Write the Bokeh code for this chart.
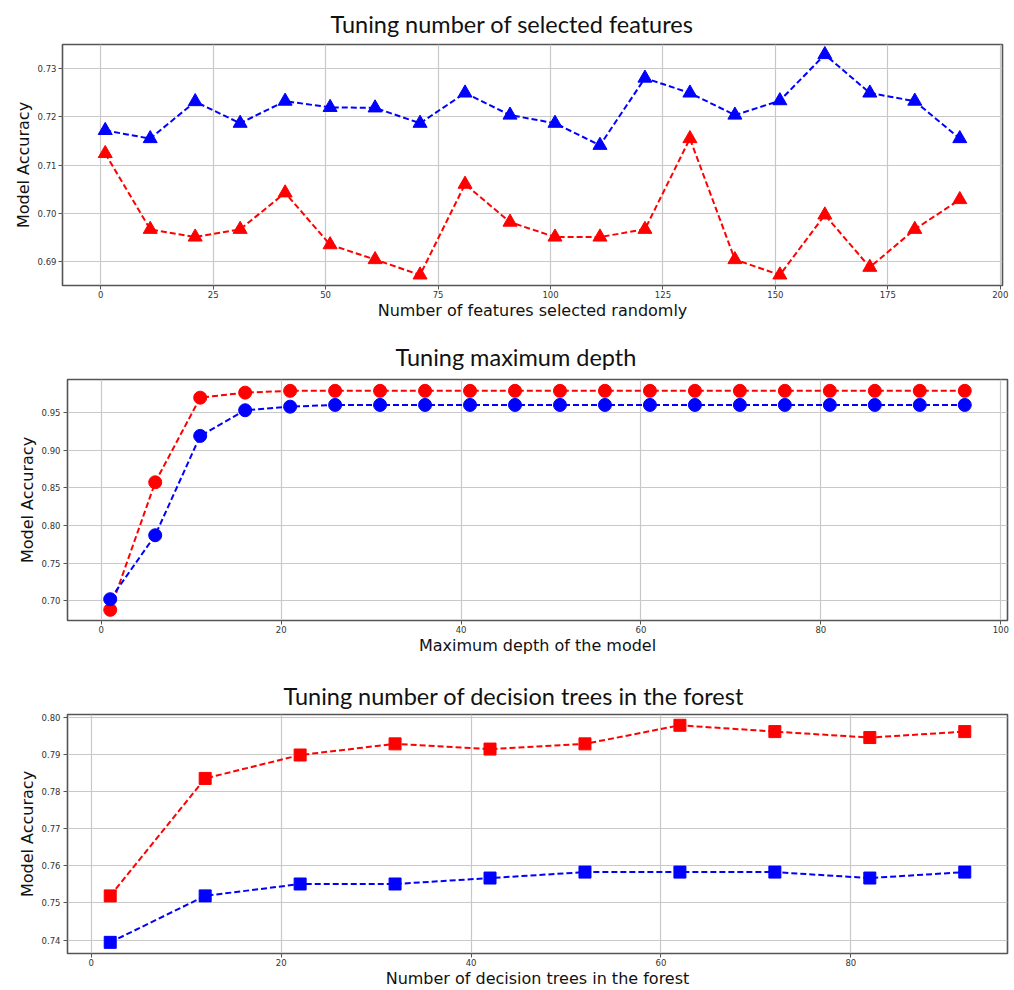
from bokeh.plotting import figure
from bokeh.models import FixedTicker, NumeralTickFormatter, Range1d
from bokeh.embed import file_html
from bokeh.resources import INLINE

# ---------------- data ----------------
features_x = [1, 11, 21, 31, 41, 51, 61, 71, 81, 91, 101, 111, 121, 131, 141, 151, 161, 171, 181, 191]
features_blue = [0.7172, 0.7155, 0.7232, 0.7187, 0.7233, 0.7220, 0.7219, 0.7187, 0.7250, 0.7204,
                 0.7187, 0.7141, 0.7281, 0.7250, 0.7204, 0.7234, 0.7330, 0.7250, 0.7233, 0.7155]
features_red = [0.7124, 0.6966, 0.6950, 0.6966, 0.7042, 0.6934, 0.6903, 0.6871, 0.7060, 0.6981,
                0.6950, 0.6950, 0.6966, 0.7155, 0.6903, 0.6871, 0.6996, 0.6887, 0.6966, 0.7028]

depth_x = [1, 6, 11, 16, 21, 26, 31, 36, 41, 46, 51, 56, 61, 66, 71, 76, 81, 86, 91, 96]
depth_red = [0.6876, 0.8576, 0.9704, 0.9771, 0.9795, 0.9795, 0.9795, 0.9795, 0.9795, 0.9795,
             0.9795, 0.9795, 0.9795, 0.9795, 0.9795, 0.9795, 0.9795, 0.9795, 0.9795, 0.9795]
depth_blue = [0.7018, 0.7870, 0.9194, 0.9536, 0.9584, 0.9607, 0.9607, 0.9607, 0.9607, 0.9607,
              0.9607, 0.9607, 0.9607, 0.9607, 0.9607, 0.9607, 0.9607, 0.9607, 0.9607, 0.9607]

trees_x = [2, 12, 22, 32, 42, 52, 62, 72, 82, 92]
trees_red = [0.7519, 0.7835, 0.7898, 0.7928, 0.7914, 0.7928, 0.7978, 0.7961, 0.7945, 0.7961]
trees_blue = [0.7394, 0.7519, 0.7551, 0.7551, 0.7567, 0.7583, 0.7583, 0.7583, 0.7567, 0.7583]

titles = ["Tuning number of selected features", "Tuning maximum depth",
          "Tuning number of decision trees in the forest"]
xlabels = ["Number of features selected randomly", "Maximum depth of the model",
           "Number of decision trees in the forest"]
ylabel = "Model Accuracy"

f1_xticks = [0, 25, 50, 75, 100, 125, 150, 175, 200]
f1_yticks = [0.69, 0.70, 0.71, 0.72, 0.73]
f2_xticks = [0, 20, 40, 60, 80, 100]
f2_yticks = [0.70, 0.75, 0.80, 0.85, 0.90, 0.95]
f3_xticks = [0, 20, 40, 60, 80]
f3_yticks = [0.74, 0.75, 0.76, 0.77, 0.78, 0.79, 0.80]

RED = "#ff0000"
BLUE = "#0000ff"
W = 1014


def make_fig(height, top, bottom, left, right, xr, yr, xticks, yticks,
             title, t_offset, t_standoff, xlabel):
    p = figure(width=W, height=height, output_backend="svg", toolbar_location=None,
               x_range=Range1d(*xr), y_range=Range1d(*yr),
               min_border_top=top, min_border_bottom=bottom,
               min_border_left=left, min_border_right=right)
    p.title.text = title
    p.title.align = "left"
    p.title.offset = t_offset
    p.title.text_font = "Lato"
    p.title.text_font_size = "23.5px"
    p.title.text_font_style = "normal"
    p.title.text_color = "#111111"
    p.title.standoff = t_standoff
    p.outline_line_color = "#555555"
    p.outline_line_width = 1.6
    p.background_fill_color = "white"
    p.border_fill_color = "white"
    p.xaxis.ticker = FixedTicker(ticks=xticks)
    p.yaxis.ticker = FixedTicker(ticks=yticks)
    p.yaxis.formatter = NumeralTickFormatter(format="0.00")
    for ax in (p.xaxis, p.yaxis):
        ax.axis_line_color = None
        ax.major_tick_line_color = "#555555"
        ax.major_tick_out = 4
        ax.major_tick_in = 0
        ax.minor_tick_line_color = None
        ax.major_label_text_font = "DejaVu Sans"
        ax.major_label_text_font_size = "8.5px"
        ax.major_label_text_color = "#333333"
        ax.axis_label_text_font = "DejaVu Sans"
        ax.axis_label_text_font_size = "16px"
        ax.axis_label_text_font_style = "normal"
        ax.axis_label_text_color = "#111111"
    p.xaxis.major_label_standoff = 1
    p.xaxis.axis_label = xlabel
    p.xaxis.axis_label_standoff = 0
    p.yaxis.major_label_standoff = 3
    p.yaxis.axis_label = ylabel
    p.yaxis.axis_label_standoff = 2
    p.grid.grid_line_color = "#c8c8c8"
    p.grid.grid_line_width = 1.2
    return p


p1 = make_fig(330, 44, 45, 62, 12, (-8.5, 200.5), (0.6849, 0.7351), f1_xticks, f1_yticks,
              titles[0], 268, 13, xlabels[0])
p1.yaxis.major_label_standoff = 2
p1.line(features_x, features_blue, color=BLUE, line_width=2, line_dash="6 3")
p1.scatter(features_x, features_blue, marker="triangle", size=14, color=BLUE)
p1.line(features_x, features_red, color=RED, line_width=2, line_dash="6 3")
p1.scatter(features_x, features_red, marker="triangle", size=14, color=RED)

p2 = make_fig(335, 49, 45, 67, 7, (-3.75, 100.75), (0.6734, 0.9946), f2_xticks, f2_yticks,
              titles[1], 328, 18, xlabels[1])
p2.line(depth_x, depth_red, color=RED, line_width=2, line_dash="6 3")
p2.scatter(depth_x, depth_red, marker="circle", size=13, color=RED)
p2.line(depth_x, depth_blue, color=BLUE, line_width=2, line_dash="6 3")
p2.scatter(depth_x, depth_blue, marker="circle", size=13, color=BLUE)

p3 = make_fig(325, 49, 35, 67, 7, (-2.5, 96.5), (0.7364, 0.8007), f3_xticks, f3_yticks,
              titles[2], 216, 10, xlabels[2])
p3.line(trees_x, trees_red, color=RED, line_width=2, line_dash="6 3")
p3.scatter(trees_x, trees_red, marker="square", size=12, color=RED)
p3.line(trees_x, trees_blue, color=BLUE, line_width=2, line_dash="6 3")
p3.scatter(trees_x, trees_blue, marker="square", size=12, color=BLUE)

# separate roots stacked vertically (keeps each figure's own borders)
open("out.html", "w").write(file_html([p1, p2, p3], INLINE))
